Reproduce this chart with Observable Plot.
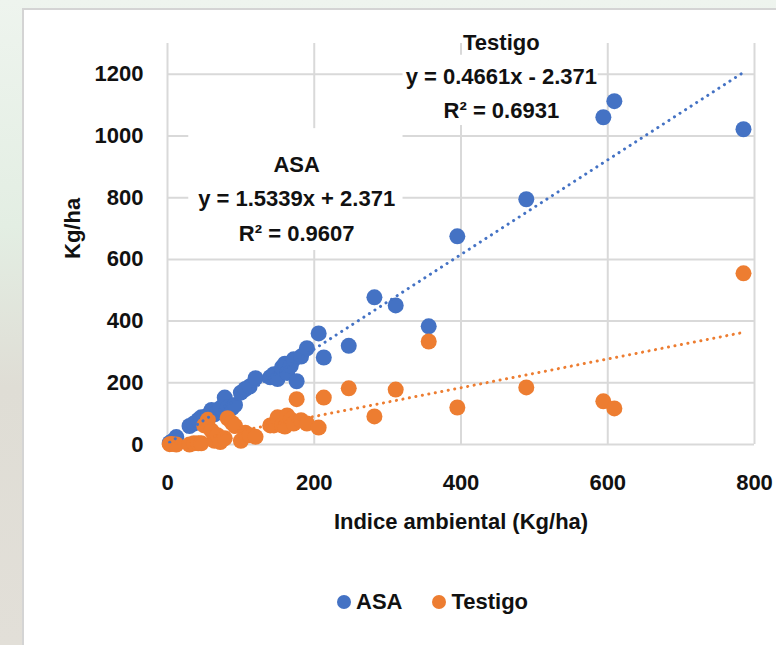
<!DOCTYPE html>
<html><head><meta charset="utf-8">
<script src="https://cdn.jsdelivr.net/npm/d3@7"></script>
<script src="https://cdn.jsdelivr.net/npm/@observablehq/plot@0.6"></script>
<style>
html,body{margin:0;padding:0}
body{width:776px;height:645px;overflow:hidden;position:relative;
 background:linear-gradient(to bottom,#eef4ee 0%,#e3eee3 35%,#dfddd5 60%,#e2dfd8 100%);
 font-family:"Liberation Sans",Arial,sans-serif;}
#card{position:absolute;left:22px;top:8px;width:754px;height:637px;background:#fff;border-left:2px solid #d4d4d4;border-top:2px solid #d4d4d4;box-sizing:border-box}
#chart{position:absolute;left:0;top:0}
#legend{position:absolute;left:337px;top:589px;display:flex;align-items:center;font-size:22px;font-weight:bold;color:#111}
#legend .sw{width:14px;height:14px;border-radius:50%;display:inline-block;margin-right:5px}
#legend .item{display:flex;align-items:center;margin-right:30px}
</style></head>
<body>
<div id="card"></div>
<div id="chart"></div>
<div id="legend"></div>
<script>
// Data
const indice  = [3,6,12,30,36,42,46,50,55,60,64,68,72,78,82,88,92,100,106,112,120,140,145,150,156,160,163,168,172,176,182,190,206,213,247,282,311,356,395,489,594,609,785];
const asa     = [5,10,24,60,68,80,88,85,95,112,98,105,118,152,120,118,128,168,180,188,215,218,228,212,250,262,232,255,276,205,285,312,360,282,320,477,451,383,675,795,1061,1113,1022];
const testigo = [1,2,0,0,4,4,4,62,80,45,12,30,8,20,85,70,60,12,38,30,25,62,62,88,62,58,94,81,68,147,79,68,55,152,182,91,178,334,120,185,140,117,555];
const seriesNames = ["ASA","Testigo"];
const seriesColors = ["#4472C4","#ED7D31"];
const slopes = [1.5339, 0.4661];
const intercepts = [2.371, -2.371];
const eqLabels = ["ASA\ny = 1.5339x + 2.371\nR² = 0.9607", "Testigo\ny = 0.4661x - 2.371\nR² = 0.6931"];
const xTicks = [0,200,400,600,800];
const yTicks = [0,200,400,600,800,1000,1200];

const rows = [];
indice.forEach((x,i)=>{ rows.push({x, y: asa[i], s: seriesNames[0]}); });
indice.forEach((x,i)=>{ rows.push({x, y: testigo[i], s: seriesNames[1]}); });

const xmin = d3.min(indice), xmax = d3.max(indice);
const trend = [];
seriesNames.forEach((s,k)=>{
  trend.push({s, x: xmin, y: slopes[k]*xmin + intercepts[k]});
  trend.push({s, x: xmax, y: slopes[k]*xmax + intercepts[k]});
});

// annotation boxes & positions (data units)
const boxes = [{x1:29,x2:321,y1:629,y2:1024},{x1:321,x2:587,y1:1034,y2:1262}];
const labels = [{x:176,y:807,t:eqLabels[0]},{x:455,y:1203,t:eqLabels[1]}];

const font = '"Liberation Sans",Arial,sans-serif';
const chart = Plot.plot({
  width: 776, height: 560,
  marginLeft: 167, marginRight: 22, marginTop: 43, marginBottom: 116,
  style: {fontFamily: font, fontSize: "22px", fontWeight: "bold", color: "#111", background: "transparent", overflow: "visible"},
  x: {domain: [0,800], ticks: xTicks},
  y: {domain: [0,1300], ticks: yTicks},
  color: {domain: seriesNames, range: seriesColors},
  marks: [
    Plot.gridX(xTicks, {stroke: "#d9d9d9", strokeOpacity: 1, strokeWidth: 2}),
    Plot.gridY(yTicks, {stroke: "#d9d9d9", strokeOpacity: 1, strokeWidth: 2}),
    Plot.rect(boxes, {x1:"x1", x2:"x2", y1:"y1", y2:"y2", fill: "white"}),
    Plot.axisX({ticks: xTicks, tickSize: 0, tickPadding: 30, label: null, fontSize: 22, tickFormat: d3.format("d")}),
    Plot.axisY({ticks: yTicks, tickSize: 0, tickPadding: 24, label: null, fontSize: 22, tickFormat: d3.format("d")}),
    Plot.dot(rows, {x:"x", y:"y", fill:"s", r: 8, stroke: "none"}),
    Plot.line(trend, {x:"x", y:"y", z:"s", stroke:"s", strokeWidth: 3, strokeDasharray: "0.1,6.5", strokeLinecap: "round"}),
    Plot.text(labels, {x:"x", y:"y", text:"t", lineHeight: 1.55, fontSize: 22, fill: "#111"}),
    Plot.text(["Indice ambiental (Kg/ha)"], {frameAnchor: "bottom", dy: 84, fontSize: 22, fill: "#111"}),
    Plot.text(["Kg/ha"], {frameAnchor: "left", dx: -95, dy: 15, rotate: -90, fontSize: 22, fill: "#111"})
  ]
});
document.getElementById("chart").appendChild(chart);

const lg = document.getElementById("legend");
seriesNames.forEach((s,k)=>{
  const it = document.createElement("span"); it.className="item";
  const sw = document.createElement("span"); sw.className="sw"; sw.style.background = seriesColors[k];
  it.appendChild(sw); it.appendChild(document.createTextNode(s)); lg.appendChild(it);
});
</script>
</body></html>
